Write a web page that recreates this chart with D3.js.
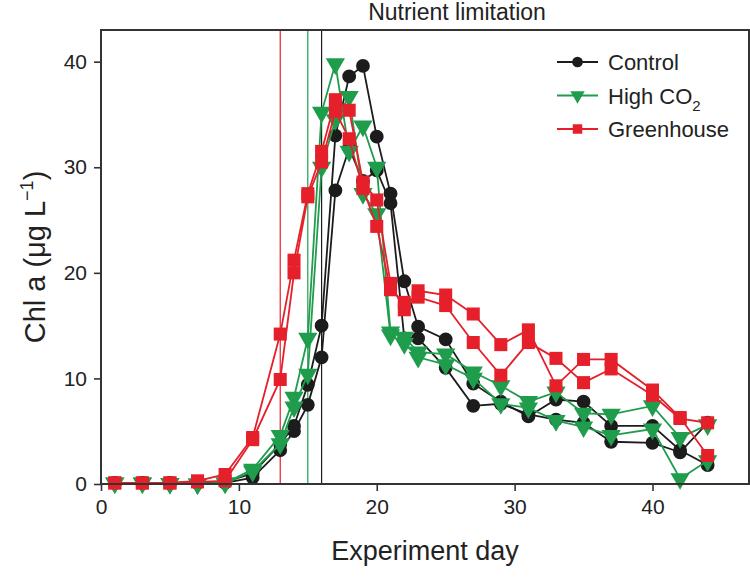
<!DOCTYPE html>
<html><head><meta charset="utf-8">
<script src="https://d3js.org/d3.v7.min.js"></script>
<style>
body{margin:0;background:#fff;}
text{font-family:"Liberation Sans Narrow","Liberation Sans",Arial,sans-serif;fill:#222;}
</style>
</head>
<body>
<script>
// sampling days (shared by all series)
days=[1,3,5,7,9,11,13,14,15,16,17,18,19,20,21,22,23,25,27,29,31,33,35,37,40,42,44];

// two replicate mesocosms per treatment
controlA=[0.1,0.1,0.1,0.1,0.2,1.0,3.8,5.5,9.4,15.0,33.0,38.6,39.6,32.9,27.5,19.2,14.9,13.7,9.5,7.8,6.4,8.0,7.8,5.5,5.5,3.2,1.8];
controlB=[0.1,0.1,0.1,0.1,0.1,0.6,3.2,5.0,7.5,12.0,27.8,31.8,28.7,29.7,26.6,13.8,13.8,11.0,7.4,7.6,6.6,6.1,5.8,4.0,3.9,3.0,5.8];
highA=[0.1,0.1,0.05,0.0,0.1,1.4,4.6,8.2,13.8,35.2,39.8,31.5,33.9,30.0,14.4,13.9,12.5,12.3,10.6,9.3,7.8,8.7,6.7,6.6,7.4,4.4,5.6];
highB=[0.1,0.1,0.05,0.0,0.1,1.2,3.8,7.3,10.4,30.0,34.5,36.7,27.5,25.6,14.1,13.3,12.0,11.3,10.0,7.6,7.2,6.0,5.4,4.6,5.2,0.5,2.2];
greenA=[0.1,0.1,0.1,0.3,0.9,4.4,14.2,21.2,27.5,31.5,36.4,35.4,28.6,26.9,19.0,16.5,18.3,17.9,16.1,13.2,14.6,9.3,11.8,11.8,8.9,6.3,2.7];
greenB=[0.1,0.1,0.1,0.2,0.3,4.2,9.9,20.0,27.2,30.5,35.3,32.7,28.0,24.4,18.4,17.2,17.7,16.9,13.4,10.3,13.4,11.9,9.6,10.9,8.4,6.2,5.8];

// day of the vertical marker line per treatment
markDays=[16,15,13];

seriesNames=["Control","High CO2","Greenhouse"];
xTicks=[0,10,20,30,40];
yTicks=[0,10,20,30,40];

colors=["#1c1c1c","#1f9d4c","#e5202b"];
symbols=[d3.symbolCircle,d3.symbolTriangle,d3.symbolSquare];
symSize=[150,160,170];

groups=[[controlA,controlB],[highA,highB],[greenA,greenB]];

W=750;H=577;
m={l:101,r:1,t:30,b:93};

svg=d3.select("body").append("svg").attr("width",W).attr("height",H);

x=d3.scaleLinear().domain([0,47]).range([m.l,W-m.r]);
y=d3.scaleLinear().domain([0,43]).range([H-m.b,m.t]);

// vertical lines
svg.selectAll("line.mark").data(markDays).enter().append("line")
 .attr("x1",function(d){return x(d);}).attr("x2",function(d){return x(d);})
 .attr("y1",y(0)).attr("y2",y(43))
 .attr("stroke",function(d,i){return colors[i];}).attr("stroke-width",1.2);

line=d3.line().defined(function(d){return d!=null;})
 .x(function(d,i){return x(days[i]);}).y(function(d){return y(d);});

groups.forEach(function(g,k){
  var gg=svg.append("g");
  g.forEach(function(vals){
    gg.append("path").datum(vals).attr("d",line)
     .attr("fill","none").attr("stroke",colors[k]).attr("stroke-width",1.8);
  });
  g.forEach(function(vals){
    gg.selectAll(null).data(vals).enter().append("path")
     .attr("d",d3.symbol().type(symbols[k]).size(symSize[k]))
     .attr("transform",function(d,i){
        return "translate("+x(days[i])+","+y(d)+")"+(k==1?" rotate(180)":"");})
     .attr("fill",colors[k]);
  });
});

// frame
svg.append("rect").attr("x",m.l).attr("y",m.t)
 .attr("width",x(47)-m.l).attr("height",y(0)-m.t)
 .attr("fill","none").attr("stroke","#333").attr("stroke-width",2);

xa=svg.append("g").attr("transform","translate(0,"+y(0)+")")
 .call(d3.axisBottom(x).tickValues(xTicks).tickSize(7).tickPadding(8));
ya=svg.append("g").attr("transform","translate("+m.l+",0)")
 .call(d3.axisLeft(y).tickValues(yTicks).tickSize(7).tickPadding(7));
[xa,ya].forEach(function(a){
  a.select(".domain").remove();
  a.selectAll("line").attr("stroke","#333").attr("stroke-width",1.6);
  a.selectAll("text").style("font-size","21px").attr("fill","#222");
});

svg.append("text").attr("x",457).attr("y",20).attr("text-anchor","middle")
 .style("font-size","23px").text("Nutrient limitation");

svg.append("text").attr("x",425).attr("y",560).attr("text-anchor","middle")
 .style("font-size","27px").text("Experiment day");

yl=svg.append("text").attr("transform","translate(45,257) rotate(-90)")
 .attr("text-anchor","middle").style("font-size","29px");
yl.append("tspan").text("Chl a (μg L");
yl.append("tspan").attr("dy",-12).style("font-size","18px").text("−1");
yl.append("tspan").attr("dy",12).text(")");

// legend
leg=svg.append("g").attr("transform","translate(557,62)");
seriesNames.forEach(function(n,k){
  var r=leg.append("g").attr("transform","translate(0,"+(k*33.5)+")");
  r.append("line").attr("x1",0).attr("x2",41).attr("stroke",colors[k]).attr("stroke-width",1.8);
  r.append("path").attr("d",d3.symbol().type(symbols[k]).size(90))
   .attr("transform","translate(20.5,0)"+(k==1?" rotate(180)":"")).attr("fill",colors[k]);
  var t=r.append("text").attr("x",51).attr("y",8).style("font-size","22px");
  if(k==1){
    t.append("tspan").text("High CO");
    t.append("tspan").attr("dy",7).style("font-size","15px").text("2");
  } else t.text(n);
});
</script>
</body></html>
